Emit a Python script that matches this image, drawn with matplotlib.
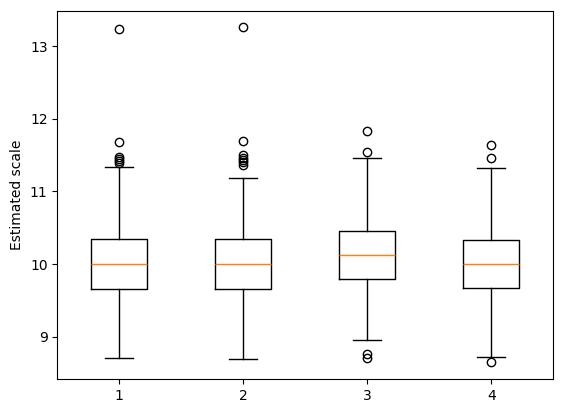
import matplotlib
matplotlib.use("Agg")
import matplotlib.pyplot as plt

# box statistics, one entry per group
labels = ["1", "2", "3", "4"]
medians = [10.0, 10.0, 10.12, 10.0]
q1s = [9.655, 9.655, 9.79, 9.665]
q3s = [10.34, 10.34, 10.455, 10.335]
whis_lo = [8.70, 8.69, 8.95, 8.72]
whis_hi = [11.33, 11.19, 11.46, 11.32]
fliers = [
    [13.245, 11.675, 11.48, 11.45, 11.42, 11.39],
    [13.26, 11.69, 11.50, 11.46, 11.43, 11.40, 11.37],
    [11.83, 11.54, 8.765, 8.705],
    [11.64, 11.455, 8.646],
]


def build_stats():
    stats = []
    for i, lab in enumerate(labels):
        stats.append({
            "label": lab,
            "med": medians[i],
            "q1": q1s[i],
            "q3": q3s[i],
            "whislo": whis_lo[i],
            "whishi": whis_hi[i],
            "fliers": fliers[i],
        })
    return stats


fig = plt.figure(figsize=(5.63, 4.13), dpi=100)
ax = fig.add_axes([57.3 / 563, 34 / 413, 496 / 563, 368.3 / 413])

ax.bxp(build_stats())
ax.set_ylabel("Estimated scale")

fig.savefig("out.png", dpi=100)
